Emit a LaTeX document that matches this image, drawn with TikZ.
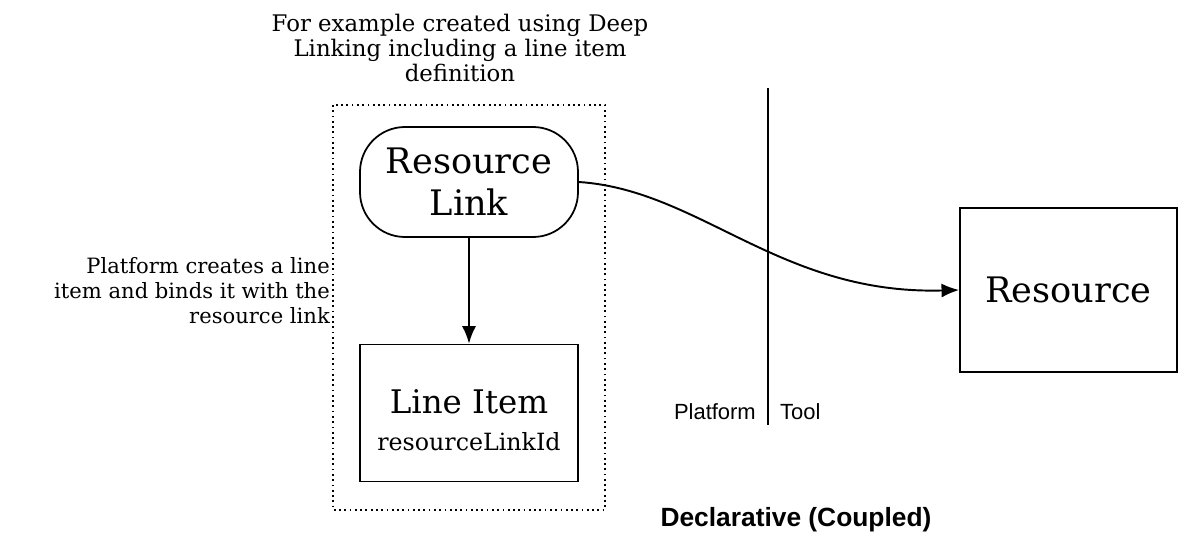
\documentclass[tikz,border=0pt]{standalone}
\usepackage{fontspec}
\setmainfont{DejaVu Serif}
\newfontfamily\sansf{Liberation Sans}
\usetikzlibrary{arrows.meta}
\begin{document}
\begin{tikzpicture}[x=0.02cm,y=-0.02cm,
  box/.style={draw,line width=1pt,inner sep=0},
  note/.style={font=\fontsize{12}{14.2}\selectfont,align=center}]
\useasboundingbox (0,0) rectangle (1188,548);
\node[note,font=\fontsize{13}{14.2}\selectfont] (top) at (460,48) {For example created using Deep\\Linking including a line item\\definition};
\draw[dotted,line width=1pt] (333,105) rectangle (605,510);
\node[box,rounded corners=0.9cm,minimum width=218*0.02cm,minimum height=110*0.02cm,align=center,font=\fontsize{20}{24}\selectfont] (rl) at (469,182) {Resource\\Link};
\node[box,minimum width=218*0.02cm,minimum height=137*0.02cm] (li) at (469,413) {};
\node[font=\fontsize{18.5}{20}\selectfont] (lit) at (469,402) {Line Item};
\node[font=\fontsize{13.5}{15}\selectfont] (lid) at (469,442) {resourceLinkId};
\draw[-{Latex[length=10pt,width=8pt]},line width=1pt] (rl) -- (li);
\node[note,align=right,anchor=east] (pl) at (336,291) {Platform creates a line\\item and binds it with the\\resource link};
\coordinate (vt) at (768,88); \coordinate (vb) at (768,425);
\draw[line width=1.1pt] (vt) -- (vb);
\node[font=\sansf\fontsize{12.5}{14}\selectfont,anchor=east] (pf) at (762,412) {Platform};
\node[font=\sansf\fontsize{12.5}{14}\selectfont,anchor=west] (tl) at (774,412) {Tool};
\node[box,minimum width=217*0.02cm,minimum height=164*0.02cm,font=\fontsize{20}{24}\selectfont] (res) at (1068.5,290) {Resource};
\draw[-{Latex[length=10pt,width=8pt]},line width=1.1pt] (rl.east) .. controls (700,190) and (780,295) .. (res.west);
\node[font=\sansf\bfseries\fontsize{15}{17}\selectfont] (dc) at (796,520) {Declarative (Coupled)};
\end{tikzpicture}
\end{document}
